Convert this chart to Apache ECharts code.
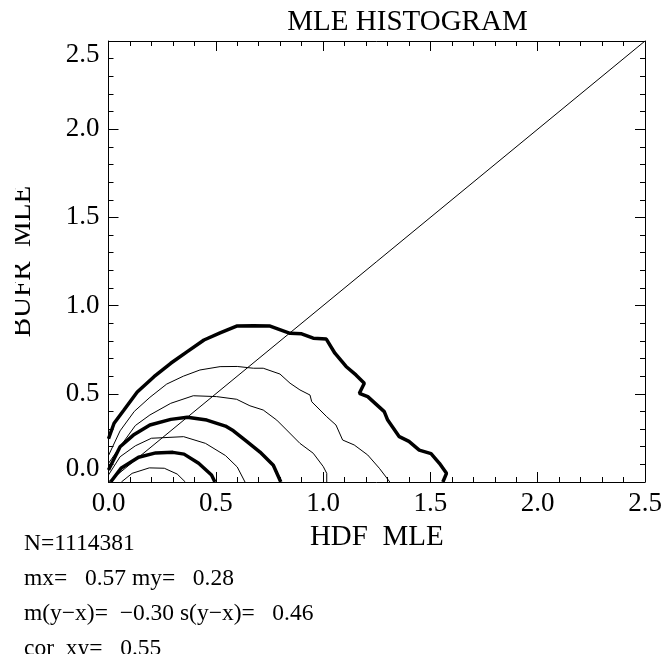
<!DOCTYPE html>
<html>
<head>
<meta charset="utf-8">
<script src="https://cdn.jsdelivr.net/npm/echarts@6/dist/echarts.min.js"></script>
<style>
  html, body { margin: 0; padding: 0; background: #fff; }
  #chart { width: 666px; height: 661px; }
</style>
</head>
<body>
<div id="chart"></div>
<script>
// Contour levels of the 2-D MLE histogram, outermost first ([HDF, BUFR] pairs)
const contourL1 = [[0,0.245],[0.026,0.333],[0.072,0.408],[0.134,0.51],[0.212,0.597],[0.29,0.673],[0.367,0.739],[0.445,0.805],[0.52,0.845],[0.597,0.884],[0.675,0.886],[0.753,0.884],[0.846,0.843],[0.9,0.84],[0.954,0.815],[1.015,0.81],[1.055,0.73],[1.107,0.655],[1.153,0.607],[1.192,0.56],[1.169,0.503],[1.208,0.484],[1.285,0.399],[1.301,0.351],[1.355,0.257],[1.4,0.23],[1.448,0.181],[1.503,0.161],[1.542,0.106],[1.575,0.049],[1.558,0]];
const contourL2 = [[0,0.15],[0.054,0.29],[0.12,0.4],[0.193,0.48],[0.271,0.555],[0.349,0.6],[0.426,0.635],[0.52,0.654],[0.6,0.655],[0.675,0.645],[0.721,0.645],[0.799,0.612],[0.846,0.56],[0.892,0.522],[0.939,0.493],[0.947,0.455],[1.017,0.37],[1.06,0.323],[1.091,0.238],[1.145,0.21],[1.208,0.153],[1.262,0.078],[1.311,0]];
const contourL3 = [[0,0.106],[0.054,0.2],[0.125,0.32],[0.193,0.38],[0.29,0.446],[0.395,0.489],[0.504,0.484],[0.597,0.469],[0.659,0.432],[0.721,0.408],[0.784,0.351],[0.83,0.295],[0.892,0.219],[0.954,0.163],[1.001,0.087],[1.017,0.049],[1.017,0]];
const contourL4 = [[0,0.068],[0.054,0.2],[0.116,0.266],[0.193,0.323],[0.29,0.355],[0.367,0.367],[0.458,0.351],[0.545,0.317],[0.582,0.29],[0.644,0.23],[0.706,0.17],[0.768,0.095],[0.803,0]];
const contourL5 = [[0,0.04],[0.054,0.143],[0.125,0.205],[0.2,0.248],[0.35,0.257],[0.452,0.219],[0.545,0.15],[0.6,0.085],[0.636,0]];
const contourL6 = [[0.01,0],[0.06,0.08],[0.14,0.14],[0.22,0.165],[0.3,0.168],[0.352,0.158],[0.42,0.106],[0.48,0.04],[0.496,0]];
const contourL7 = [[0.06,0],[0.11,0.049],[0.19,0.08],[0.26,0.078],[0.32,0.045],[0.358,0]];
// Thick lines mark every other level
const contourLevels = [contourL1, contourL2, contourL3, contourL4, contourL5, contourL6, contourL7];
const levelIsThick = [true, false, false, true, false, true, false];

// One-to-one reference line
const diagonalX = [0, 2.5];

// Axis range and tick step
const axisMin = 0, axisMax = 2.5, axisStep = 0.5;

// Summary statistics printed under the plot
const statLines = [
  'N=1114381',
  'mx=   0.57 my=   0.28',
  'm(y\u2212x)=  \u22120.30 s(y\u2212x)=   0.46',
  'cor  xy=   0.55'
];

const FONT = '"Liberation Serif", "Times New Roman", serif';
const chart = echarts.init(document.getElementById('chart'), null, { renderer: 'canvas' });

const tickFmt = v => v.toFixed(1);

function valueAxis(extra) {
  return Object.assign({
    type: 'value',
    min: axisMin, max: axisMax, interval: axisStep,
    axisLine: { show: true, onZero: false, lineStyle: { color: '#000', width: 1 } },
    axisTick: { show: true, inside: true, length: 10, lineStyle: { color: '#000', width: 1 } },
    minorTick: { show: true, splitNumber: 5, length: 5, lineStyle: { color: '#000', width: 1 } },
    splitLine: { show: false },
    minorSplitLine: { show: false }
  }, extra);
}

const series = contourLevels.map((pts, i) => ({
  type: 'line',
  data: pts,
  showSymbol: false,
  symbol: 'none',
  silent: true,
  animation: false,
  lineStyle: { color: '#000', width: levelIsThick[i] ? 3.5 : 1 }
}));
series.push({
  type: 'line',
  data: diagonalX.map(v => [v, v]),
  showSymbol: false,
  symbol: 'none',
  silent: true,
  animation: false,
  lineStyle: { color: '#000', width: 1 }
});

const graphics = [
  {
    type: 'text', x: 407.5, y: 22.4, silent: true,
    style: { text: 'MLE HISTOGRAM', font: '29px ' + FONT, fill: '#000', textAlign: 'center', textVerticalAlign: 'middle' }
  }
];
const statBase = [543.4, 578.7, 613.4, 648.4];
statLines.forEach((s, i) => {
  graphics.push({
    type: 'text', x: 24, y: statBase[i], silent: true,
    style: { text: s, font: '23.5px ' + FONT, fill: '#000', textAlign: 'left', textVerticalAlign: 'middle' }
  });
});
// page edges trim the outermost text
graphics.push({ type: 'rect', left: 0, top: 654, z: 100, silent: true, shape: { width: 666, height: 8 }, style: { fill: '#fff' } });
graphics.push({ type: 'rect', left: 0, top: 170, z: 100, silent: true, shape: { width: 15, height: 180 }, style: { fill: '#fff' } });

chart.setOption({
  animation: false,
  backgroundColor: '#fff',
  grid: { left: 108.5, right: 21, top: 41, bottom: 179, containLabel: false },
  xAxis: [
    valueAxis({
      position: 'bottom',
      name: 'HDF  MLE', nameLocation: 'middle', nameGap: 55,
      nameTextStyle: { fontFamily: FONT, fontSize: 29, color: '#000', verticalAlign: 'middle' },
      axisLabel: { show: true, formatter: tickFmt, fontFamily: FONT, fontSize: 27, color: '#000', margin: 22, verticalAlign: 'middle' }
    }),
    valueAxis({ position: 'top', axisLabel: { show: false } })
  ],
  yAxis: [
    valueAxis({
      position: 'left',
      name: 'BUFR  MLE', nameLocation: 'middle', nameGap: 86, nameRotate: 90,
      nameTextStyle: { fontFamily: FONT, fontSize: 29, color: '#000', verticalAlign: 'middle' },
      axisLabel: { show: true, formatter: tickFmt, fontFamily: FONT, fontSize: 27, color: '#000', margin: 9,
                   verticalAlignMinLabel: 'bottom', verticalAlignMaxLabel: 'top' }
    }),
    valueAxis({ position: 'right', axisLabel: { show: false } })
  ],
  series: series,
  graphic: graphics
});
</script>
</body>
</html>
